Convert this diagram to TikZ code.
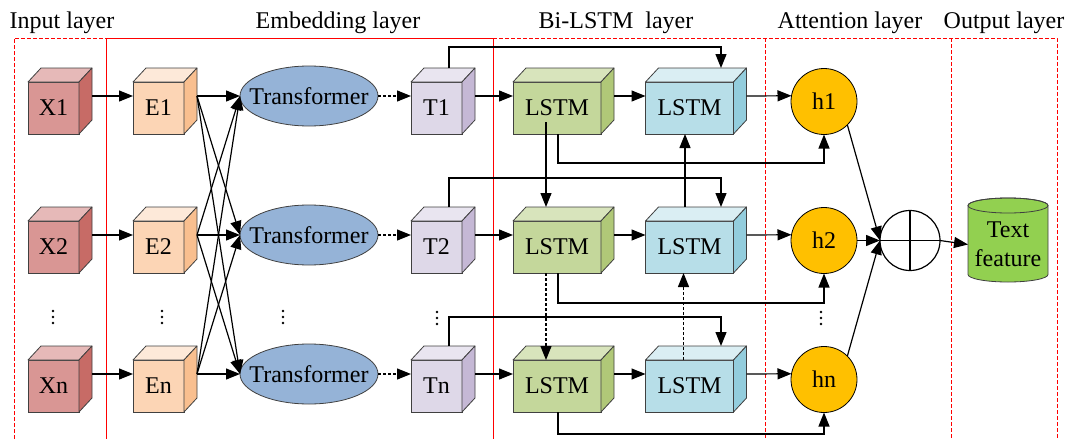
\documentclass[tikz,border=0pt]{standalone}
\usepackage{fontspec}
\setmainfont{Liberation Serif}
\usetikzlibrary{arrows.meta,shapes.geometric,calc}

\definecolor{xfront}{HTML}{D99694}
\definecolor{xtop}{HTML}{E6B9B8}
\definecolor{xside}{HTML}{C76B66}
\definecolor{efront}{HTML}{FCD5B5}
\definecolor{etop}{HTML}{FDE9D9}
\definecolor{eside}{HTML}{F9BF8F}
\definecolor{tfront}{HTML}{DED8E8}
\definecolor{ttop}{HTML}{E9E5F0}
\definecolor{tside}{HTML}{C5B8D5}
\definecolor{gfront}{HTML}{C4D79B}
\definecolor{gtop}{HTML}{D8E4BC}
\definecolor{gside}{HTML}{B0C878}
\definecolor{bfront}{HTML}{B7DEE8}
\definecolor{btop}{HTML}{DAEEF3}
\definecolor{bside}{HTML}{93CDDD}
\definecolor{trfill}{HTML}{95B3D7}
\definecolor{hfill}{HTML}{FFC000}
\definecolor{cylfill}{HTML}{92D050}
\definecolor{edge}{HTML}{404040}

% a box drawn as a cube: front face is the node, top and side faces drawn behind it
\newcommand\cubenode[7]{% name, position, width, front, top, side, label
  \node[cubeface, minimum width=#3, fill=#4] (#1) at (#2) {#7};
  \draw[cubeedge, fill=#5] (#1.north west) -- ++(13pt,14pt)
     -- ([shift={(13pt,14pt)}]#1.north east) -- (#1.north east) -- cycle;
  \draw[cubeedge, fill=#6] (#1.north east) -- ++(13pt,14pt)
     -- ([shift={(13pt,14pt)}]#1.south east) -- (#1.south east) -- cycle;
}

% a vertical ellipsis made of three dots
\newcommand\dotcol[2]{%
  \foreach \k in {-6,0,6}{\fill (#1,#2+\k) circle[radius=1.3pt];}
}

\begin{document}
\begin{tikzpicture}[x=1pt,y=-1pt,
  font=\fontsize{24}{29}\selectfont,
  cubeface/.style={draw=edge, line width=0.8pt, minimum height=52pt, inner sep=0pt, outer sep=0pt},
  cubeedge/.style={draw=edge, line width=0.8pt, line join=round},
  arr/.style={-{Triangle[length=14pt,width=11pt]}, line width=1.2pt},
  dotarr/.style={arr, dash pattern=on 3pt off 2pt},
  frame/.style={red, line width=1pt, dash pattern=on 4pt off 2pt},
  trans/.style={ellipse, draw=edge, line width=0.8pt, fill=trfill, minimum width=138pt, minimum height=60pt, inner sep=0pt, outer sep=0pt},
  hnode/.style={circle, draw=black, line width=0.8pt, fill=hfill, minimum size=66pt, inner sep=0pt, outer sep=0pt},
  title/.style={anchor=base}
]
\useasboundingbox (0,0) rectangle (1069,439);

% layer frames
\draw[frame] (14,439) -- (14,38) -- (106,38);
\draw[frame] (493,38) -- (1057,38) -- (1057,439);
\draw[frame] (765,38) -- (765,439);
\draw[frame] (951,38) -- (951,439);
\draw[red, line width=1pt] (106,439) -- (106,38) -- (493,38) -- (493,439);

% layer titles
\node[title] (tin)  at (62,28)   {Input layer};
\node[title] (temb) at (338,28)  {Embedding layer};
\node[title] (tbi)  at (616,28)  {Bi-LSTM\ \ layer};
\node[title] (tatt) at (850,28)  {Attention layer};
\node[title] (tout) at (1004,28) {Output layer};

% three rows of nodes
\foreach \r/\ry in {1/96, 2/235, n/374}{
  \pgfmathsetmacro\cy{\ry+12}
  \cubenode{x\r}{53.5,\cy}{51pt}{xfront}{xtop}{xside}{X\r}
  \cubenode{e\r}{158.5,\cy}{51pt}{efront}{etop}{eside}{E\r}
  \cubenode{t\r}{436.5,\cy}{51pt}{tfront}{ttop}{tside}{T\r}
  \cubenode{g\r}{557,\cy}{88pt}{gfront}{gtop}{gside}{LSTM}
  \cubenode{b\r}{689.5,\cy}{88pt}{bfront}{btop}{bside}{LSTM}
  \node[trans] (tr\r) at (309,\ry) {};
  \node (trl\r) at (tr\r) {Transformer};
  \pgfmathsetmacro\hy{\ry+5.5}
  \node[hnode] (h\r) at (824,\hy) {h\r};
}

% vertical ellipsis marks between rows 2 and n
\dotcol{53}{317}
\dotcol{162}{317}
\dotcol{283}{317}
\dotcol{437}{318}
\dotcol{821}{318}

% summation node
\node[circle, draw=black, line width=1.2pt, minimum size=60pt, inner sep=0pt, outer sep=0pt,
      path picture={\draw[line width=1.2pt]
        (path picture bounding box.north) -- (path picture bounding box.south)
        (path picture bounding box.west) -- (path picture bounding box.east);}]
  (plus) at (910,240.5) {};

% output cylinder
\draw[draw=edge, line width=0.8pt, fill=cylfill]
  (968,205.5) -- (968,274.5)
  arc[start angle=180, end angle=360, x radius=40pt, y radius=7.5pt]
  -- (1048,205.5)
  arc[start angle=0, end angle=180, x radius=40pt, y radius=7.5pt] -- cycle;
\draw[draw=edge, line width=0.8pt] (1008,205.5) ellipse[x radius=40pt, y radius=7.5pt];
\node[minimum width=80pt, minimum height=60pt, inner sep=0pt, outer sep=0pt, align=center]
  (out) at (1008,244.5) {Text\\feature};

% row-wise connectors
\foreach \r in {1,2,n}{
  \draw[arr] ([shift={(13pt,12pt)}]x\r.east) -- ([yshift=12pt]e\r.west);
  \draw[dotarr] (tr\r.east) -- ([yshift=12pt]t\r.west);
  \draw[arr] ([shift={(13pt,12pt)}]t\r.east) -- ([yshift=12pt]g\r.west);
  \draw[arr] ([shift={(13pt,12pt)}]g\r.east) -- ([yshift=12pt]b\r.west);
  \draw[arr] ([shift={(13pt,12pt)}]b\r.east) -- (h\r.170);
  \foreach \s in {1,2,n}{
    \draw[arr] ([shift={(13pt,12pt)}]e\r.east) -- (tr\s.west);
  }
}

% embeddings routed over to the backward LSTMs
\draw[arr] ([shift={(12.5pt,14pt)}]t1.north) -- ++(0,-21) -| ([shift={(31.5pt,14pt)}]b1.north);
\draw[arr] ([shift={(12.5pt,14pt)}]t2.north) -- ++(0,-29) -| ([shift={(31.5pt,14pt)}]b2.north);
\draw[arr] ([shift={(12.5pt,14pt)}]tn.north) -- ++(0,-29) -| ([shift={(31.5pt,14pt)}]bn.north);

% forward LSTM outputs routed below to the attention nodes
\draw[arr] ([xshift=1pt]g1.south) -- ++(0,29) -| (h1.south);
\draw[arr] ([xshift=1pt]g2.south) -- ++(0,30) -| (h2.south);
\draw[arr] ([xshift=1pt]gn.south) -- ++(0,22) -| (hn.south);

% recurrent links between time steps
\draw[arr] ([shift={(-11pt,12pt)}]g1.south) -- ([shift={(-11pt,14pt)}]g2.north);
\draw[dotarr] ([xshift=-11pt]g2.south) -- ([xshift=-11pt]gn.north);
\draw[arr] ([shift={(-4.5pt,14pt)}]b2.north) -- ([xshift=-4.5pt]b1.south);
\draw[dotarr] ([xshift=-6pt]bn.north) -- ([xshift=-6pt]b2.south);

% attention aggregation and output
\draw[arr] (h1.south east) -- (plus.west);
\draw[arr] (h2.east) -- (plus.west);
\draw[arr] (hn.north east) -- (plus.west);
\draw[arr] (plus.east) -- (out.west);
\end{tikzpicture}
\end{document}
